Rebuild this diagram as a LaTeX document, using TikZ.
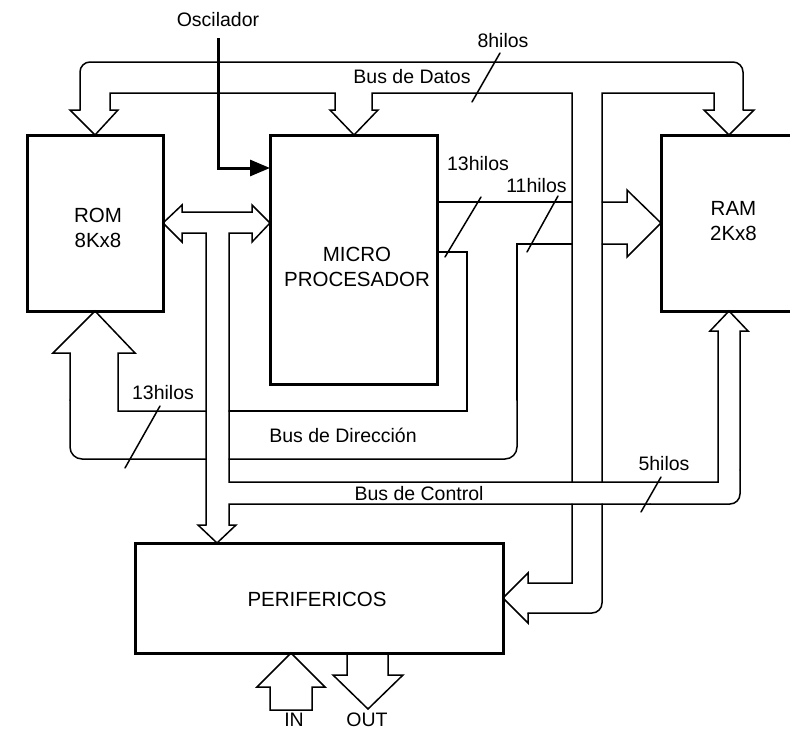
\documentclass[tikz,border=0pt]{standalone}
\usepackage{fontspec}
\setmainfont{Liberation Sans}
\usetikzlibrary{arrows.meta}
\begin{document}
\begin{tikzpicture}[x=1pt,y=-1pt,
  box/.style={draw, line width=3pt, inner sep=0pt},
  bus/.style={line width=1.5pt, line cap=round, line join=miter},
  lbl/.style={font=\fontsize{19.5}{23}\selectfont, inner sep=0pt},
  btxt/.style={font=\fontsize{20.5}{25}\selectfont, align=center, inner sep=0pt},
  clkline/.style={line width=3pt, -{Triangle[length=20pt,width=16pt]}}
]
\clip (0,0) rectangle (790,731);
% boxes
\node[box, minimum width=136pt, minimum height=176pt] (rom) at (95,223) {};
\node[box, minimum width=167pt, minimum height=249pt] (micro) at (353.5,259.5) {};
\node[box, minimum width=159pt, minimum height=176pt] (ram) at (740.5,223) {};
\node[box, minimum width=368pt, minimum height=110pt] (perif) at (319,598) {};
\node[btxt] (romt) at (98,227.5) {ROM\\8Kx8};
\node[btxt] (microt) at (357,267) {MICRO\\PROCESADOR};
\node[btxt] (ramt) at (733.5,221) {RAM\\2Kx8};
\node[btxt] (perift) at (317,599) {PERIFERICOS};
% labels
\node[lbl] (osc) at (218,19.5) {Oscilador};
\node[lbl] (h8) at (503,41) {8hilos};
\node[lbl] (bdatos) at (412,77) {Bus de Datos};
\node[lbl] (h13a) at (478,164) {13hilos};
\node[lbl] (h11) at (536.5,186) {11hilos};
\node[lbl] (h13b) at (163,392.5) {13hilos};
\node[lbl] (bdir) at (343,435) {Bus de Dirección};
\node[lbl] (bctl) at (419,494) {Bus de Control};
\node[lbl] (h5) at (664,464) {5hilos};
\node[lbl] (in) at (294,719.5) {IN};
\node[lbl] (out) at (367,719.5) {OUT};
% oscillator
\coordinate (oscsrc) at (218,38);
\coordinate (clk) at (270,168);
\draw[clkline] (oscsrc) |- (clk);
% data bus
\draw[bus, rounded corners=10pt] (80,110) -- (80,62) -- (743,62) -- (743,110);
\draw[bus] (80,110) -- (70,110) -- (95,135) -- (118,110) -- (110,110) -- (110,93)
  -- (335,93) -- (335,110) -- (330,110) -- (354,135) -- (378,110) -- (372,110)
  -- (372,93) -- (572,93) -- (572,482);
\draw[bus] (743,110) -- (754,110) -- (729,135) -- (704,110) -- (714,110) -- (714,93)
  -- (602,93) -- (602,482);
\draw[bus] (572,504) -- (572,583) -- (528,583) -- (528,573) -- (503,598) -- (528,623) -- (528,613);
\draw[bus, rounded corners=10pt] (528,613) -- (602,613) -- (602,504);
% address bus
\draw[bus] (437,202) -- (572,202);
\draw[bus] (602,202) -- (627,202) -- (627,190) -- (661,223) -- (627,257) -- (627,244) -- (602,244);
\draw[bus] (572,244) -- (517,244) -- (517,400);
\draw[bus, rounded corners=12pt] (517,400) -- (517,459) -- (229,459);
\draw[bus, rounded corners=12pt] (206,459) -- (70,459) -- (70,400);
\draw[bus] (70,400) -- (70,353) -- (53,353) -- (95,311) -- (135,353) -- (118,353) -- (118,411) -- (206,411);
\draw[bus] (229,411) -- (467,411) -- (467,252) -- (437,252);
% ROM-MICRO bus, vertical to peripherals, control bus
\draw[bus] (206,525) -- (206,233) -- (182,233) -- (182,242) -- (163,223) -- (182,205)
  -- (182,212) -- (252,212) -- (252,205) -- (270,223) -- (252,242) -- (252,233)
  -- (229,233) -- (229,482) -- (718,482) -- (718,331) -- (710,331) -- (729,311)
  -- (748,331) -- (740,331) -- (740,470);
\draw[bus, rounded corners=10pt] (740,470) -- (740,504) -- (650,504);
\draw[bus] (650,504) -- (229,504) -- (229,525) -- (236,525) -- (217,543) -- (198,525) -- (206,525);
% IN / OUT
\draw[bus] (291,653) -- (325,687) -- (312,687) -- (312,710) -- (270,710) -- (270,687) -- (257,687) -- cycle;
\draw[bus] (347,653) -- (347,675) -- (333,675) -- (368,709) -- (403,675) -- (388,675) -- (388,653);
% wire-count slashes
\draw[bus] (500,53) -- (472,102);
\draw[bus] (481,197) -- (445,257);
\draw[bus] (558,196) -- (527,252);
\draw[bus] (160,406) -- (125,468);
\draw[bus] (661,477) -- (641,512);
\end{tikzpicture}
\end{document}
